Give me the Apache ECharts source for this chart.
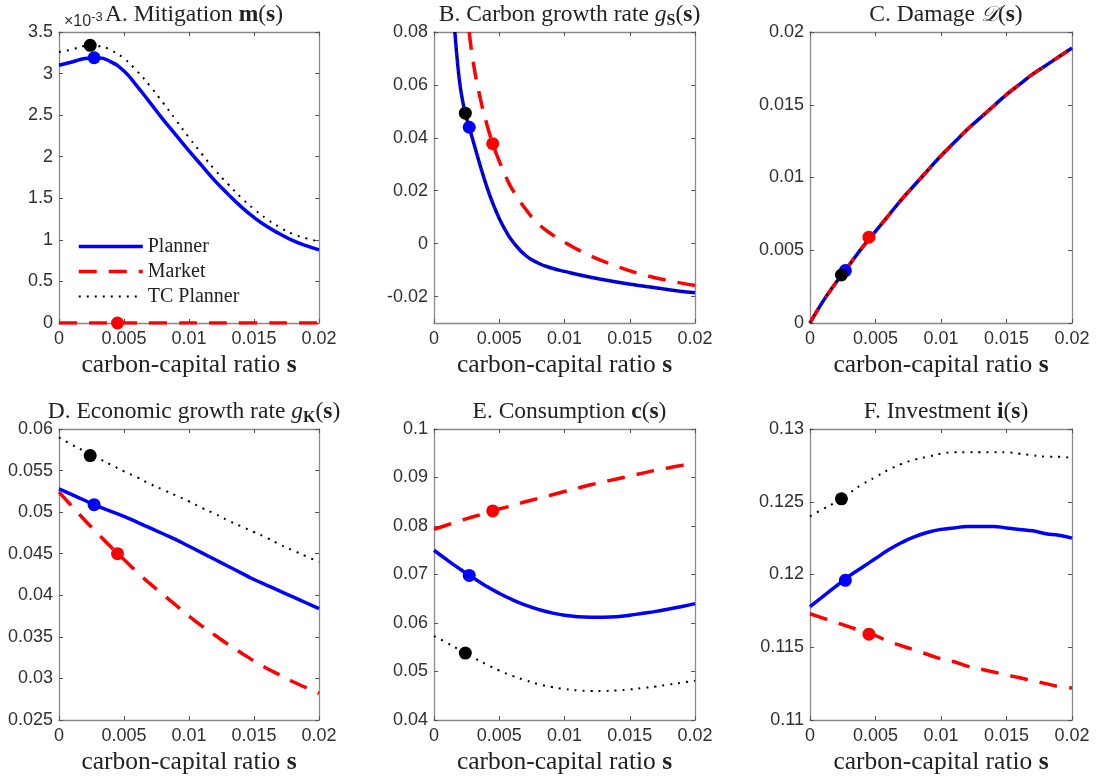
<!DOCTYPE html>
<html>
<head>
<meta charset="utf-8">
<script src="https://cdn.jsdelivr.net/npm/echarts@6/dist/echarts.min.js"></script>
<style>
  html, body { margin: 0; padding: 0; background: #fff; }
  #chart { width: 1097px; height: 778px; }
</style>
</head>
<body>
<div id="chart"></div>
<script>
// carbon-capital ratio grid shared by most curves
const sGrid = [0, 0.001, 0.002, 0.003, 0.004, 0.005, 0.006, 0.007, 0.008, 0.009, 0.010,
               0.011, 0.012, 0.013, 0.014, 0.015, 0.016, 0.017, 0.018, 0.019, 0.020];

// A. Mitigation m(s), in units of 1e-3
const planA   = [3.10, 3.14, 3.18, 3.19, 3.14, 3.03, 2.85, 2.65, 2.45, 2.26, 2.07, 1.89, 1.71, 1.55, 1.40, 1.27, 1.16, 1.07, 0.99, 0.93, 0.88];
const marketA = [0, 0, 0, 0, 0, 0, 0, 0, 0, 0, 0, 0, 0, 0, 0, 0, 0, 0, 0, 0, 0];
const tcA     = [3.26, 3.29, 3.33, 3.33, 3.28, 3.18, 3.03, 2.85, 2.65, 2.44, 2.23, 2.03, 1.84, 1.67, 1.51, 1.37, 1.25, 1.15, 1.07, 1.02, 0.98];

// B. Carbon growth rate g_S(s)
const sPlanB   = [0.0016, 0.0018, 0.002, 0.0022, 0.0024, 0.0027, 0.003, 0.0035, 0.004, 0.0045, 0.005, 0.0055, 0.006, 0.007, 0.008, 0.009, 0.010, 0.012, 0.014, 0.016, 0.018, 0.020];
const planB    = [0.080, 0.0685, 0.0598, 0.0538, 0.0493, 0.0440, 0.0388, 0.0302, 0.0222, 0.0153, 0.0095, 0.0048, 0.0010, -0.0044, -0.0074, -0.0092, -0.0105, -0.0127, -0.0145, -0.0160, -0.0174, -0.0186];
const tcB      = [0.080, 0.0685, 0.0598, 0.0538, 0.0493, 0.0440, 0.0388, 0.0302, 0.0222, 0.0153, 0.0095, 0.0048, 0.0010, -0.0044, -0.0074, -0.0092, -0.0105, -0.0127, -0.0145, -0.0160, -0.0174, -0.0186];
const sMarketB = [0.0027, 0.003, 0.0035, 0.004, 0.0045, 0.005, 0.0055, 0.006, 0.007, 0.008, 0.009, 0.010, 0.011, 0.012, 0.013, 0.014, 0.016, 0.018, 0.020];
const marketB  = [0.080, 0.0688, 0.0560, 0.0460, 0.0378, 0.0312, 0.0254, 0.0205, 0.0132, 0.0075, 0.0036, 0.0005, -0.0022, -0.0046, -0.0067, -0.0086, -0.0117, -0.0140, -0.0158];

// C. Damage D(s)
const planC   = [0, 0.0015, 0.0028, 0.0040, 0.0052, 0.0063, 0.0074, 0.0085, 0.0095, 0.0105, 0.0115, 0.0124, 0.0133, 0.0141, 0.0149, 0.0157, 0.0164, 0.0171, 0.0177, 0.0183, 0.0189];
const marketC = [0, 0.0015, 0.0028, 0.0040, 0.0052, 0.0063, 0.0074, 0.0085, 0.0095, 0.0105, 0.0115, 0.0124, 0.0133, 0.0141, 0.0149, 0.0157, 0.0164, 0.0171, 0.0177, 0.0183, 0.0189];
const tcC     = [0, 0.0015, 0.0028, 0.0040, 0.0052, 0.0063, 0.0074, 0.0085, 0.0095, 0.0105, 0.0115, 0.0124, 0.0133, 0.0141, 0.0149, 0.0157, 0.0164, 0.0171, 0.0177, 0.0183, 0.0189];

// D. Economic growth rate g_K(s)
const planD   = [0.0528, 0.0521, 0.0514, 0.0507, 0.0501, 0.0495, 0.0488, 0.0481, 0.0474, 0.0467, 0.0459, 0.0451, 0.0443, 0.0435, 0.0427, 0.0419, 0.0412, 0.0405, 0.0398, 0.0391, 0.0384];
const marketD = [0.0524, 0.0507, 0.0490, 0.0474, 0.0458, 0.0443, 0.0428, 0.0414, 0.0401, 0.0388, 0.0375, 0.0363, 0.0352, 0.0341, 0.0331, 0.0321, 0.0312, 0.0304, 0.0296, 0.0289, 0.0282];
const tcD     = [0.0590, 0.0581, 0.0573, 0.0565, 0.0557, 0.0549, 0.0542, 0.0534, 0.0527, 0.0520, 0.0513, 0.0505, 0.0498, 0.0490, 0.0483, 0.0476, 0.0469, 0.0461, 0.0454, 0.0447, 0.0440];

// E. Consumption c(s)
const planE   = [0.0750, 0.0730, 0.0711, 0.0693, 0.0676, 0.0661, 0.0648, 0.0637, 0.0628, 0.0621, 0.0616, 0.0613, 0.0612, 0.0612, 0.0613, 0.0616, 0.0620, 0.0624, 0.0629, 0.0634, 0.0640];
const marketE = [0.0793, 0.0802, 0.0811, 0.0819, 0.0827, 0.0835, 0.0842, 0.0850, 0.0857, 0.0864, 0.0871, 0.0878, 0.0885, 0.0891, 0.0897, 0.0903, 0.0909, 0.0915, 0.0920, 0.0925, 0.0930];
const tcE     = [0.0573, 0.0559, 0.0544, 0.0529, 0.0515, 0.0502, 0.0491, 0.0482, 0.0474, 0.0468, 0.0464, 0.0461, 0.0460, 0.0460, 0.0461, 0.0463, 0.0466, 0.0469, 0.0473, 0.0477, 0.0481];

// F. Investment i(s)
const planF   = [0.1178, 0.1185, 0.1192, 0.1199, 0.1205, 0.1211, 0.1217, 0.1222, 0.1226, 0.1229, 0.1231, 0.1232, 0.1233, 0.1233, 0.1233, 0.1232, 0.1231, 0.1230, 0.1228, 0.1227, 0.1225];
const marketF = [0.1173, 0.1170, 0.1167, 0.1164, 0.1161, 0.1158, 0.1154, 0.1151, 0.1148, 0.1145, 0.1142, 0.1140, 0.1137, 0.1135, 0.1133, 0.1131, 0.1129, 0.1127, 0.1125, 0.1123, 0.1122];
const tcF     = [0.1240, 0.1245, 0.1250, 0.1256, 0.1262, 0.1267, 0.1272, 0.1276, 0.1279, 0.1281, 0.1283, 0.1284, 0.1284, 0.1284, 0.1284, 0.1284, 0.1283, 0.1282, 0.1281, 0.1281, 0.1280];

// steady-state points: [Planner, Market, TC Planner]
const steadyS = [0.0027, 0.0045, 0.0024];
const steadyA = [3.19, 0, 3.34];
const steadyB = [0.0440, 0.0378, 0.0493];
const steadyC = [0.0036, 0.0059, 0.0033];
const steadyD = [0.0509, 0.0450, 0.0568];
const steadyE = [0.0698, 0.0831, 0.0538];
const steadyF = [0.1196, 0.1159, 0.1252];

// tick labels
const xTicks  = [0, 0.005, 0.01, 0.015, 0.02];
const yTicksA = [0, 0.5, 1, 1.5, 2, 2.5, 3, 3.5];
const yTicksB = [-0.02, 0, 0.02, 0.04, 0.06, 0.08];
const yTicksC = [0, 0.005, 0.01, 0.015, 0.02];
const yTicksD = [0.025, 0.03, 0.035, 0.04, 0.045, 0.05, 0.055, 0.06];
const yTicksE = [0.04, 0.05, 0.06, 0.07, 0.08, 0.09, 0.1];
const yTicksF = [0.11, 0.115, 0.12, 0.125, 0.13];

const seriesNames = ['Planner', 'Market', 'TC Planner'];
const seriesColors = ['#0000ff', '#ff0000', '#000000'];

const SERIF = '"Liberation Serif", "Times New Roman", serif';
const SANS = '"Liberation Sans", Arial, Helvetica, sans-serif';
const AXIS_GRAY = '#8a8a8a';
const LABEL_COLOR = '#303030';

const panels = [
  { title: 'A. Mitigation {b|m}({b|s})', yMin: 0, yMax: 3.5, yTicks: yTicksA,
    lines: [[sGrid, planA], [sGrid, marketA], [sGrid, tcA]], steady: steadyA },
  { title: 'B. Carbon growth rate {i|g}{sub|S}({b|s})', yMin: -0.03, yMax: 0.08, yTicks: yTicksB,
    lines: [[sPlanB, planB], [sMarketB, marketB], [sPlanB, tcB]], steady: steadyB },
  { title: 'C. Damage {d|𝒟}({b|s})', yMin: 0, yMax: 0.02, yTicks: yTicksC,
    lines: [[sGrid, planC], [sGrid, marketC], [sGrid, tcC]], steady: steadyC },
  { title: 'D. Economic growth rate {i|g}{sub|K}({b|s})', yMin: 0.025, yMax: 0.06, yTicks: yTicksD,
    lines: [[sGrid, planD], [sGrid, marketD], [sGrid, tcD]], steady: steadyD },
  { title: 'E. Consumption {b|c}({b|s})', yMin: 0.04, yMax: 0.1, yTicks: yTicksE,
    lines: [[sGrid, planE], [sGrid, marketE], [sGrid, tcE]], steady: steadyE },
  { title: 'F. Investment {b|i}({b|s})', yMin: 0.11, yMax: 0.13, yTicks: yTicksF,
    lines: [[sGrid, planF], [sGrid, marketF], [sGrid, tcF]], steady: steadyF }
];

// panel frames
const colLeft = [59, 434, 810];
const colWidth = [260, 261, 262];
const rowTop = [32, 429];
const rowHeight = 291;

const fmt = v => String(parseFloat(Number(v).toFixed(6)));

const TITLE_SIZE = 23.5;
const titleRich = {
  b:   { fontFamily: SERIF, fontSize: TITLE_SIZE, fontWeight: 'bold', color: '#222' },
  i:   { fontFamily: SERIF, fontSize: TITLE_SIZE, fontStyle: 'italic', color: '#222' },
  sub: { fontFamily: SERIF, fontSize: 16, fontWeight: 'bold', color: '#222', padding: [11, 0, 0, 0] },
  d:   { fontFamily: '"DejaVu Serif", "DejaVu Sans", serif', fontSize: 21.5, fontStyle: 'italic', color: '#222' }
};

const grid = [], xAxis = [], yAxis = [], series = [], title = [];

panels.forEach((p, k) => {
  const col = k % 3, row = Math.floor(k / 3);
  const left = colLeft[col], top = rowTop[row], width = colWidth[col];
  grid.push({ left, top, width, height: rowHeight });

  title.push({
    text: p.title,
    left: left + width / 2,
    top: row === 0 ? -4 : 393,
    textAlign: 'center',
    textStyle: { fontFamily: SERIF, fontSize: TITLE_SIZE, fontWeight: 'normal', color: '#222', lineHeight: 28, rich: titleRich }
  });

  const tickStyle = { show: true, inside: true, length: 4, lineStyle: { color: '#555', width: 1 } };
  const lineStyle = { show: true, onZero: false, lineStyle: { color: AXIS_GRAY, width: 1.3 } };

  // bottom axis with labels and name
  xAxis.push({
    type: 'value', gridIndex: k, min: 0, max: 0.02, interval: 0.005,
    axisLine: lineStyle, axisTick: Object.assign({}, tickStyle, { customValues: xTicks }),
    axisLabel: { show: true, margin: 7, fontFamily: SANS, fontSize: 18, color: LABEL_COLOR, formatter: fmt,
                 customValues: xTicks },
    splitLine: { show: false },
    name: 'carbon-capital ratio {b|s}', nameLocation: 'middle', nameGap: 29,
    nameTextStyle: { fontFamily: SERIF, fontSize: 25.5, color: '#222',
                     rich: { b: { fontFamily: SERIF, fontSize: 25.5, fontWeight: 'bold', color: '#222' } } }
  });
  // top edge of the frame
  xAxis.push({
    type: 'value', gridIndex: k, min: 0, max: 0.02, interval: 0.005, position: 'top',
    axisLine: lineStyle, axisTick: Object.assign({}, tickStyle, { customValues: xTicks }),
    axisLabel: { show: false }, splitLine: { show: false }
  });
  // left axis with labels
  yAxis.push({
    type: 'value', gridIndex: k, min: p.yMin, max: p.yMax,
    axisLine: lineStyle, axisTick: Object.assign({}, tickStyle, { customValues: p.yTicks }),
    axisLabel: { show: true, margin: 6, fontFamily: SANS, fontSize: 18, color: LABEL_COLOR, formatter: fmt,
                 customValues: p.yTicks },
    splitLine: { show: false }
  });
  // right edge of the frame
  yAxis.push({
    type: 'value', gridIndex: k, min: p.yMin, max: p.yMax, position: 'right',
    axisLine: lineStyle, axisTick: Object.assign({}, tickStyle, { customValues: p.yTicks }),
    axisLabel: { show: false }, splitLine: { show: false }
  });

  const xi = 2 * k, yi = 2 * k;
  const lineStyles = [
    { color: seriesColors[0], width: 3.5, type: 'solid' },
    { color: seriesColors[1], width: 3.5, type: [18, 12], cap: 'butt' },
    { color: seriesColors[2], width: 2, type: [2, 6], cap: 'butt' }
  ];
  p.lines.forEach(([sv, yv], j) => {
    series.push({
      type: 'line', name: seriesNames[j], xAxisIndex: xi, yAxisIndex: yi,
      data: sv.map((s, n) => [s, yv[n]]),
      symbol: 'none', smooth: 0.5, clip: true,
      lineStyle: lineStyles[j], itemStyle: { color: seriesColors[j] },
      z: 2 + j, silent: true, animation: false
    });
  });
  // steady-state dots: Market, Planner, then TC Planner on top
  [1, 0, 2].forEach(j => {
    series.push({
      type: 'scatter', name: seriesNames[j] + ' steady state', xAxisIndex: xi, yAxisIndex: yi,
      data: [[steadyS[j], p.steady[j]]], symbol: 'circle', symbolSize: 13,
      itemStyle: { color: seriesColors[j], opacity: 1 }, z: 10 + j, silent: true, animation: false
    });
  });
});

// scale factor shown above panel A
title.push({
  text: '×10{sup|-3}', left: 59, top: 5,
  textStyle: { fontFamily: SANS, fontSize: 16, fontWeight: 'normal', color: LABEL_COLOR, lineHeight: 24,
               rich: { sup: { fontFamily: SANS, fontSize: 13, color: LABEL_COLOR, padding: [0, 0, 10, 0] } } }
});

const option = {
  backgroundColor: '#fff',
  animation: false,
  title,
  grid, xAxis, yAxis, series,
  legend: {
    data: seriesNames,
    orient: 'vertical', left: 77, top: 234, padding: 0,
    itemWidth: 64, itemHeight: 12, itemGap: 0,
    selectedMode: false,
    itemStyle: { color: 'rgba(0,0,0,0)', borderWidth: 0, borderColor: 'rgba(0,0,0,0)' },
    lineStyle: { width: 'inherit' },
    textStyle: { fontFamily: SERIF, fontSize: 20, color: '#222', lineHeight: 25 }
  }
};

const chart = echarts.init(document.getElementById('chart'), null, { renderer: 'canvas' });
chart.setOption(option);
</script>
</body>
</html>
